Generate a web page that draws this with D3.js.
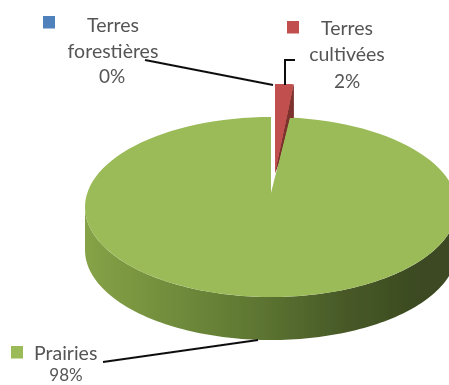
<!DOCTYPE html>
<html>
<head>
<meta charset="utf-8">
<script src="https://cdn.jsdelivr.net/npm/d3@7"></script>
<style>
  html, body { margin: 0; padding: 0; background: #fff; overflow: hidden; }
  text { font-family: Lato, "Open Sans", sans-serif; }
</style>
</head>
<body>
<svg id="chart"></svg>
<script>
// 3D exploded pie: land use shares
const categories = ["Terres cultivées", "Terres forestières", "Prairies"];
const shares = [1.6, 0.02, 98.38];
const colors = ["#c0504d", "#4f81bd", "#9bbb59"];
const labelLines = [["Terres", "cultivées"], ["Terres", "forestières"], ["Prairies"]];

const width = 449;
const height = 385;

const svg = d3.select("#chart")
    .attr("width", width)
    .attr("height", height);

const defs = svg.append("defs");

defs.append("filter").attr("id", "soft")
    .append("feGaussianBlur").attr("stdDeviation", 0.7);

const wallGrad = defs.append("linearGradient").attr("id", "wall");
[[0, "#86a347"], [0.25, "#6f8b3b"], [0.47, "#5d7531"], [0.69, "#485a28"], [0.9, "#3c4a21"]].forEach(s => {
    wallGrad.append("stop").attr("offset", s[0]).attr("stop-color", s[1]);
});

// pie geometry, flattened to an ellipse
const cx = 271, cy = 207, rx = 186, ry = 90, depth = 43;
const apexY = 193;                 // perspective moves the slice tip above the ellipse centre
const liftX = 4, liftY = -33, liftApexY = -20;   // exploded red slice

const slices = d3.pie().sort(null).value(d => d)(shares);
const total = d3.sum(shares);

const rim = (a, dx = 0, dy = 0) => [cx + dx + rx * Math.sin(a), cy + dy - ry * Math.cos(a)];
const line = d3.line();
const arcPoints = (a0, a1, dx = 0, dy = 0) =>
    d3.range(0, 121).map(i => rim(a0 + (a1 - a0) * i / 120, dx, dy));

const pieLayer = svg.append("g").attr("filter", "url(#soft)");

// green wall, front half only
const front = arcPoints(Math.PI / 2, 3 * Math.PI / 2);
const frontLow = arcPoints(3 * Math.PI / 2, Math.PI / 2, 0, depth);
pieLayer.append("path")
    .attr("d", line(front.concat(frontLow)) + "Z")
    .attr("fill", "url(#wall)");

// red slice: wall behind, then its top face
const red = slices[0];
const redTip = [cx + liftX, apexY + liftApexY];
pieLayer.append("path")
    .attr("d", line([redTip, rim(red.endAngle, liftX, liftY), rim(red.endAngle, liftX, liftY + depth)]) + "Z")
    .attr("fill", "#7d302e");
pieLayer.append("path")
    .attr("d", line([redTip].concat(arcPoints(red.startAngle, red.endAngle, liftX, liftY))) + "Z")
    .attr("fill", colors[0]);

// green top face, tip at apexY
const green = slices[2];
pieLayer.append("path")
    .attr("d", line([[cx, apexY]].concat(arcPoints(green.startAngle, green.endAngle))) + "Z")
    .attr("fill", colors[2]);

// redraw the part of the red slice that sits in the notch
const notchClip = defs.append("clipPath").attr("id", "notch");
notchClip.append("path")
    .attr("d", line([[cx, apexY], rim(red.startAngle - 0.03), rim(red.endAngle)]) + "Z");
notchClip.append("rect").attr("x", 260).attr("y", 70).attr("width", 50).attr("height", 48);
const redFront = pieLayer.append("g").attr("clip-path", "url(#notch)");
redFront.append("path")
    .attr("d", line([redTip, rim(red.endAngle, liftX, liftY), rim(red.endAngle, liftX, liftY + depth)]) + "Z")
    .attr("fill", "#7d302e");
redFront.append("path")
    .attr("d", line([redTip].concat(arcPoints(red.startAngle, red.endAngle, liftX, liftY))) + "Z")
    .attr("fill", colors[0]);

// leader lines
const leaders = [
    [[295, 60], [285, 60], [285, 85]],
    [[145, 60], [273, 85]],
    [[103, 362], [258, 340]]
];
svg.append("g").attr("filter", "url(#soft)")
    .selectAll("path").data(leaders).enter().append("path")
    .attr("d", d => line(d))
    .attr("fill", "none")
    .attr("stroke", "#111")
    .attr("stroke-width", 2);

// labels: swatch, name lines, then percentage
const labelPos = [
    { x: 347, y: 35, sx: 287, sy: 21, anchor: "middle", pctX: 347, pctY: 88, pctSize: 19 },
    { x: 113, y: 32, sx: 43, sy: 16, anchor: "middle", pctX: 112, pctY: 83, pctSize: 19 },
    { x: 34, y: 360, sx: 11, sy: 346, anchor: "start", pctX: 66, pctY: 381, pctSize: 17 }
];
const lineGap = 26;
const labels = svg.append("g").attr("filter", "url(#soft)");

categories.forEach((name, i) => {
    const p = labelPos[i];
    labels.append("rect")
        .attr("x", p.sx).attr("y", p.sy)
        .attr("width", 12).attr("height", 12.5)
        .attr("fill", colors[i]);
    labelLines[i].forEach((txt, j) => {
        labels.append("text")
            .attr("x", p.x).attr("y", p.y + j * lineGap)
            .attr("text-anchor", p.anchor)
            .attr("font-size", 19.5)
            .attr("fill", "#555")
            .text(txt);
    });
    labels.append("text")
        .attr("x", p.pctX)
        .attr("y", p.pctY)
        .attr("text-anchor", "middle")
        .attr("font-size", p.pctSize)
        .attr("fill", "#555")
        .text(d3.format(".0f")(shares[i] / total * 100) + "%");
});
</script>
</body>
</html>
